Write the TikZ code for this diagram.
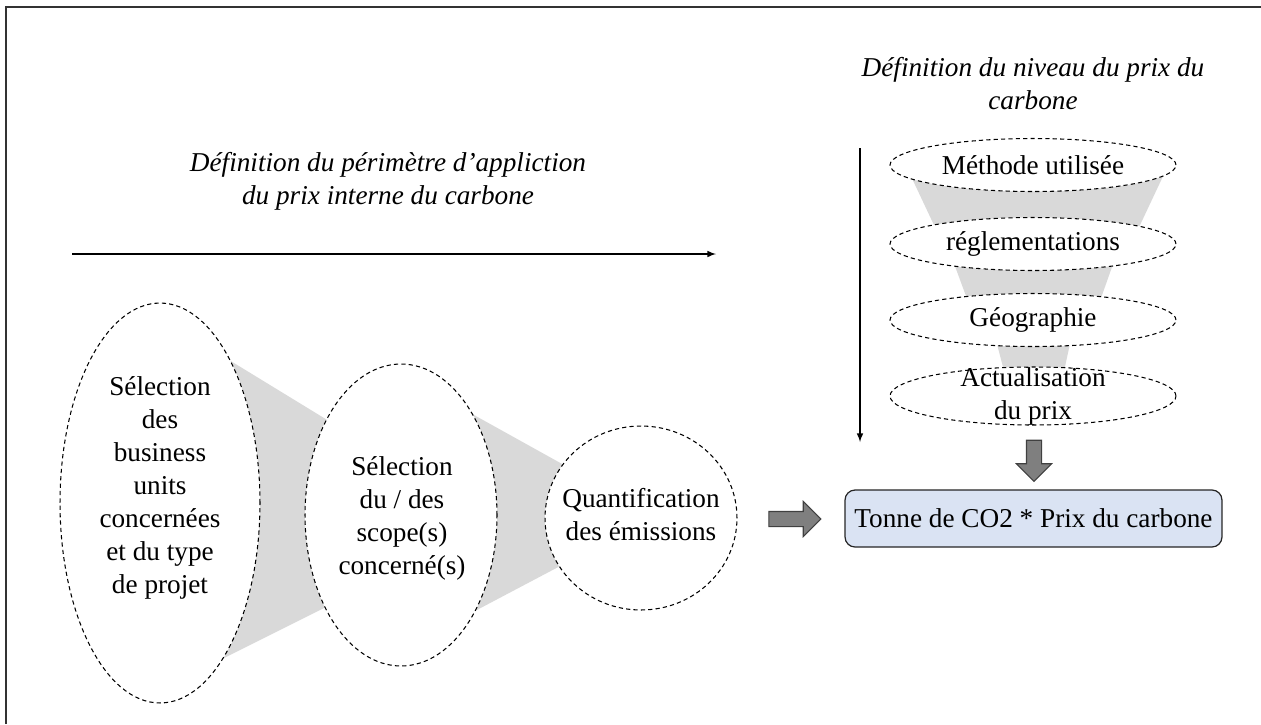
\documentclass[tikz,border=0pt]{standalone}
\usepackage{fontspec}
\setmainfont{Liberation Serif}
\usetikzlibrary{shapes.geometric,shapes.arrows}

\definecolor{grisfleche}{HTML}{7F7F7F}
\definecolor{grisentonnoir}{HTML}{D9D9D9}
\definecolor{bleuboite}{HTML}{DAE3F3}

\tikzset{
  every node/.style={font=\fontsize{15.5}{18.8}\selectfont},
  bulle/.style={ellipse, draw, fill=white, dash pattern=on 2.4pt off 1.8pt, line width=0.6pt, inner sep=0pt},
  titre/.style={align=center, font=\fontsize{15.5}{18.8}\selectfont\itshape},
  texte/.style={align=center},
  bloc/.style={single arrow, draw=black!75, fill=grisfleche, line width=0.6pt, inner sep=0.14cm,
    minimum width=0.69cm, single arrow head extend=0.2cm, single arrow head indent=0pt},
  resultat/.style={draw=black!85, fill=bleuboite, rounded corners=0.2cm, line width=0.7pt,
    minimum width=7.54cm, minimum height=1.14cm}
}

\begin{document}
\begin{tikzpicture}[x=0.02cm, y=-0.02cm]
    \useasboundingbox (0,0) rectangle (1261,724);
    % draw frame
    \draw[line width=1.1pt, black!80] (6,724) -- (6,7) -- (1261,7);

    % draw titles
    \node[titre] (titreperim) at (388,181) {Définition du périmètre d’appliction\\du prix interne du carbone};
    \node[titre] (titreniveau) at (1033,84) {Définition du niveau du prix du\\carbone};

    % draw axis arrows
    \coordinate (hdeb) at (72,254);
    \coordinate (hfin) at (716,254);
    \coordinate (vdeb) at (860,148);
    \coordinate (vfin) at (860,442);
    \draw[->, >=latex, line width=0.7pt] (hdeb) -- (hfin);
    \draw[->, >=latex, line width=0.7pt] (vdeb) -- (vfin);

    % draw grey funnels
    \fill[grisentonnoir] (180,330) -- (360,440) -- (360,590) -- (180,680) -- cycle;
    \fill[grisentonnoir] (420,385) -- (600,485) -- (600,545) -- (420,640) -- cycle;
    \fill[grisentonnoir] (909,172) -- (1165,172) -- (1133,240) -- (941,240) -- cycle;
    \fill[grisentonnoir] (949,250) -- (1118,250) -- (1095,315) -- (973,315) -- cycle;
    \fill[grisentonnoir] (992,325) -- (1074,325) -- (1060,390) -- (1009,390) -- cycle;

    % draw scope ellipses
    \node[bulle, minimum width=4cm, minimum height=8cm] (bu) at (160,503) {};
    \node[bulle, minimum width=3.84cm, minimum height=6.04cm] (scope) at (401,515) {};
    \node[bulle, minimum width=3.84cm, minimum height=3.68cm] (quanti) at (641,518) {};
    \node[texte] (tbu) at (160,488) {Sélection\\des\\business\\units\\concernées\\et du type\\de projet};
    \node[texte] (tscope) at (402,518) {Sélection\\du / des\\scope(s)\\concerné(s)};
    \node[texte] (tquanti) at (641,515) {Quantification\\des émissions};

    % draw price ellipses
    \foreach \nom/\y/\txt in {meth/165/Méthode utilisée, regl/244/réglementations, geo/320/Géographie}
    {
        \node[bulle, minimum width=5.72cm, minimum height=1.06cm] (\nom) at (1033,\y) {};
        \node[texte] (t\nom) at (\nom) {\txt};
    }
    \node[bulle, minimum width=5.72cm, minimum height=1.16cm] (actu) at (1033,396) {};
    \node[texte] (tactu) at (1033,396) {Actualisation\\du prix};

    % draw result box and block arrows
    \node[resultat] (prix) at (1033.5,518.5) {Tonne de CO2 * Prix du carbone};
    \node[bloc, minimum height=1.04cm] (fdroite) at (791,519) {};
    \node[bloc, minimum height=0.82cm, shape border rotate=270] (fbas) at (1034,457) {};
\end{tikzpicture}
\end{document}
